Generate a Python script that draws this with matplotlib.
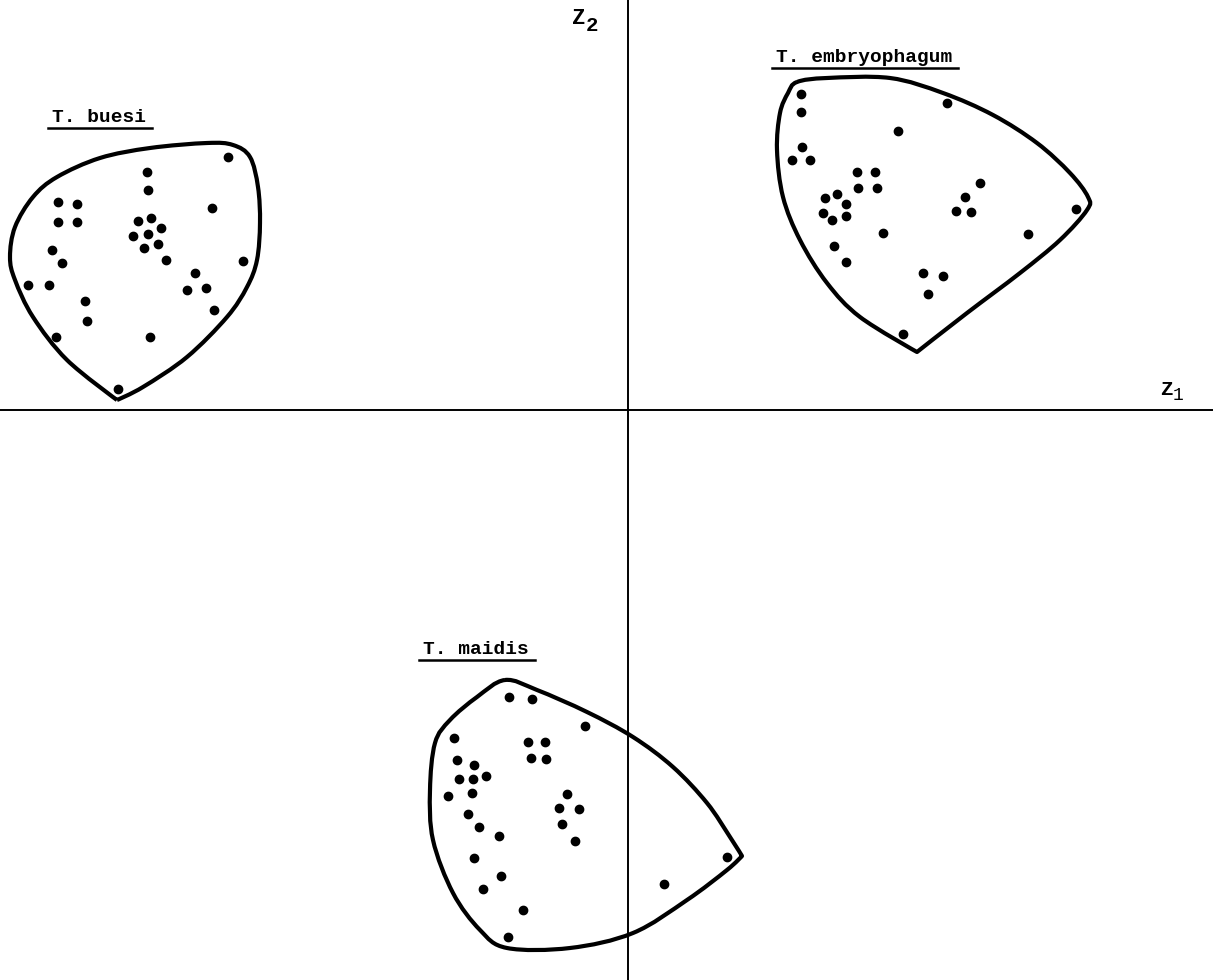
import numpy as np
import matplotlib.pyplot as plt
from matplotlib.path import Path
from matplotlib.patches import PathPatch

# discriminant scores (Z1, Z2) for each species
buesi_z1 = [-4.00, -4.81, -4.80, -5.70, -5.51, -5.70, -5.51, -4.16, -4.90, -4.77,
            -4.67, -4.95, -4.80, -4.70, -4.84, -5.76, -5.66, -4.62, -3.85, -6.00,
            -5.79, -4.33, -4.41, -4.22, -4.14, -5.43, -5.41, -5.72, -4.78, -5.10]
buesi_z2 = [2.53, 2.38, 2.20, 2.08, 2.06, 1.88, 1.88, 2.02, 1.89, 1.92,
            1.82, 1.74, 1.76, 1.66, 1.62, 1.60, 1.47, 1.50, 1.49, 1.25,
            1.25, 1.37, 1.20, 1.22, 1.00, 1.09, 0.89, 0.73, 0.73, 0.21]

embr_z1 = [1.73, 1.73, 1.74, 1.64, 1.82, 3.19, 2.70, 2.29, 2.47, 2.30,
           2.49, 1.97, 2.09, 2.18, 1.95, 2.04, 2.18, 3.52, 3.37, 3.28,
           3.43, 4.48, 2.55, 4.00, 2.06, 2.18, 2.95, 3.15, 3.00, 2.75]
embr_z2 = [3.16, 2.98, 2.63, 2.50, 2.50, 3.07, 2.79, 2.38, 2.38, 2.22,
           2.22, 2.12, 2.16, 2.06, 1.97, 1.90, 1.94, 2.27, 2.13, 1.99,
           1.98, 2.01, 1.77, 1.76, 1.64, 1.48, 1.37, 1.34, 1.16, 0.76]

maidis_z1 = [-1.19, -0.96, -0.43, -1.74, -1.00, -0.83, -0.97, -0.82, -1.71, -1.54,
             -1.42, -1.55, -1.69, -1.56, -1.80, -0.61, -0.69, -0.49, -0.66, -1.60,
             -1.49, -1.29, -0.53, -1.54, 0.99, -1.27, 0.36, -1.45, -1.05, -1.20]
maidis_z2 = [-2.87, -2.89, -3.16, -3.28, -3.32, -3.32, -3.48, -3.49, -3.50, -3.55,
             -3.66, -3.69, -3.69, -3.83, -3.86, -3.84, -3.98, -3.99, -4.14, -4.04,
             -4.17, -4.26, -4.31, -4.48, -4.47, -4.66, -4.74, -4.79, -5.00, -5.27]

# hand-drawn group boundaries (vertices, plus which vertices are pointed)
buesi_bx = [-5.11, -5.61, -5.95, -6.13, -6.18, -6.13, -5.95, -5.71, -5.28, -4.78,
            -4.21, -3.95, -3.78, -3.70, -3.68, -3.71, -3.81, -4.01, -4.41, -4.85]
buesi_by = [0.10, 0.50, 0.93, 1.30, 1.53, 1.83, 2.13, 2.33, 2.52, 2.62,
            2.67, 2.65, 2.53, 2.23, 1.87, 1.50, 1.23, 0.93, 0.53, 0.23]
buesi_corners = [0]

embr_bx = [1.69, 1.99, 2.62, 3.15, 3.65, 4.09, 4.42, 4.60, 4.59, 4.32, 3.92,
           3.39, 2.89, 2.32, 1.99, 1.72, 1.55, 1.49, 1.52, 1.60]
embr_by = [3.28, 3.32, 3.32, 3.17, 2.95, 2.67, 2.37, 2.13, 2.00, 1.70, 1.37,
           0.97, 0.58, 0.93, 1.27, 1.70, 2.13, 2.60, 2.97, 3.17]
embr_corners = [12]

maidis_bx = [-1.23, -0.91, -0.41, 0.05, 0.45, 0.79, 1.02, 1.14, 0.99, 0.59,
             0.05, -0.58, -1.21, -1.48, -1.75, -1.95, -1.98, -1.93, -1.78, -1.51]
maidis_by = [-2.70, -2.80, -3.02, -3.27, -3.57, -3.93, -4.27, -4.46, -4.60, -4.90,
             -5.23, -5.38, -5.38, -5.20, -4.83, -4.30, -3.80, -3.33, -3.10, -2.87]
maidis_corners = [7]

names = ['T. buesi', 'T. embryophagum', 'T. maidis']
label_pos = [(-5.76, 2.88), (1.48, 3.48), (-2.05, -2.44)]


def closed_curve(xs, ys, corners=()):
    # closed Catmull-Rom outline turned into cubic Bezier segments;
    # tangents are dropped at corner vertices so the outline comes to a point
    p = np.column_stack([xs, ys])
    n = len(p)
    tang = np.array([(p[(i + 1) % n] - p[i - 1]) / 6 for i in range(n)])
    for c in corners:
        tang[c] = 0
    verts = [p[0]]
    codes = [Path.MOVETO]
    for i in range(n):
        j = (i + 1) % n
        verts += [p[i] + tang[i], p[j] - tang[j], p[j]]
        codes += [Path.CURVE4] * 3
    return Path(verts, codes)


fig = plt.figure(figsize=(12.13, 9.8), dpi=100)
ax = fig.add_axes([0, 0, 1, 1])
ax.set_xlim(-6.28, 5.85)
ax.set_ylim(-5.70, 4.10)
ax.axis('off')

ax.axhline(0, color='black', lw=1.4)
ax.axvline(0, color='black', lw=1.4)

groups = [(buesi_z1, buesi_z2, buesi_bx, buesi_by, buesi_corners),
          (embr_z1, embr_z2, embr_bx, embr_by, embr_corners),
          (maidis_z1, maidis_z2, maidis_bx, maidis_by, maidis_corners)]

for (z1, z2, bx, by, cn) in groups:
    ax.plot(z1, z2, 'o', color='black', ms=6)
    ax.add_patch(PathPatch(closed_curve(bx, by, cn), fill=False, lw=3, ec='black',
                           joinstyle='round'))

mono = 'Liberation Mono'
labels = []
for name, (x, y) in zip(names, label_pos):
    labels.append(ax.text(x, y, name, family=mono, fontsize=14, weight='bold',
                          ha='left', va='baseline'))

ax.text(-0.56, 3.86, 'Z', family=mono, fontsize=16, weight='bold', ha='left', va='baseline')
ax.text(-0.42, 3.79, '2', family=mono, fontsize=15, weight='bold', ha='left', va='baseline')
ax.text(5.32, 0.15, 'Z', family=mono, fontsize=15, weight='bold', ha='left', va='baseline')
ax.text(5.45, 0.10, '1', family=mono, fontsize=13, ha='left', va='baseline')

# underline species names
fig.canvas.draw()
inv = ax.transData.inverted()
for t in labels:
    bb = t.get_window_extent()
    (x0, y0), (x1, y1) = inv.transform([[bb.x0, bb.y0], [bb.x1, bb.y1]])
    ax.plot([x0 - 0.04, x1 + 0.06], [y0 - 0.02, y0 - 0.02], color='black', lw=1.8)

fig.savefig('out.png', dpi=100)
